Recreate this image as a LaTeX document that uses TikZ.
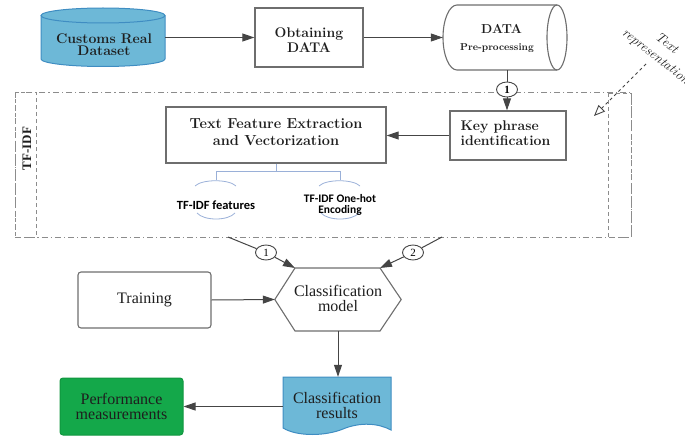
\documentclass[tikz,border=0pt]{standalone}
\usepackage{fontspec}
\newfontfamily\carlito{Carlito}
\newfontfamily\tnr{Liberation Serif}
\usetikzlibrary{arrows.meta,shapes.geometric,calc}
\definecolor{cylblue}{HTML}{6DB8D7}
\definecolor{cylborder}{HTML}{3F8DC2}
\definecolor{perfgreen}{HTML}{14A84A}
\definecolor{perfborder}{HTML}{10963F}
\definecolor{boxgray}{HTML}{6E6E6E}
\definecolor{arrowgray}{HTML}{454545}
\definecolor{treeblue}{HTML}{9AB0D8}
\definecolor{framegray}{HTML}{8C8C8C}
\definecolor{inkdark}{HTML}{1E1E1E}
\tikzset{
 boxnode/.style={draw=boxgray, line width=1.3pt, fill=white, inner sep=0pt},
 bx/.style={font=\fontsize{14}{15}\selectfont\bfseries, text=inkdark, align=center},
 rg/.style={font=\tnr\fontsize{16}{15}\selectfont, text=inkdark, align=center},
 arr/.style={draw=arrowgray, line width=1pt, -{Triangle[length=12pt,width=8pt]}},
 plainline/.style={draw=arrowgray, line width=1pt},
 numnode/.style={ellipse, draw=arrowgray, line width=0.9pt, fill=white, minimum width=21pt, minimum height=15pt, inner sep=0pt, font=\tnr\fontsize{11}{11}\selectfont},
 frameline/.style={draw=framegray, line width=1pt, dash pattern=on 6pt off 3pt on 1.2pt off 3pt},
 innerframe/.style={draw=framegray, line width=1pt, dash pattern=on 4pt off 3pt},
 tree/.style={draw=treeblue, line width=0.8pt},
 feat/.style={font=\carlito\fontsize{12.5}{11}\selectfont\bfseries, text=black, align=center},
}
\begin{document}
\begin{tikzpicture}[x=1pt,y=-1pt]
\useasboundingbox (0,0) rectangle (685,436);
% dash-dot frame
\draw[frameline] (15,92) rectangle (631,237);
\draw[innerframe] (15,92) rectangle (36,237);
\draw[innerframe] (608,93) rectangle (631,237);
\node[rotate=90, font=\tnr\fontsize{13}{13}\selectfont\bfseries, text=inkdark] (tfidf) at (27,148.5) {TF-IDF};
% Customs cylinder
\fill[cylblue] (41,15.5) -- (41,59) .. controls (41,63.1) and (68.8,66.5) .. (103,66.5) .. controls (137.2,66.5) and (165,63.1) .. (165,59) -- (165,15.5) -- cycle;
\draw[cylborder, line width=1pt] (41,15.5) -- (41,59) .. controls (41,63.1) and (68.8,66.5) .. (103,66.5) .. controls (137.2,66.5) and (165,63.1) .. (165,59) -- (165,15.5);
\draw[cylborder, line width=1pt, fill=cylblue] (103,15.5) ellipse [x radius=62, y radius=7.5];
\node[inner sep=0, minimum width=124pt, minimum height=58pt] (crd) at (103,37.5) {};
\node[bx, font=\fontsize{14}{12}\selectfont\bfseries] (crdtxt) at (104,45) {Customs Real\\Dataset};
% Obtaining
\node[boxnode, minimum width=108pt, minimum height=59pt] (obt) at (309,37.5) {};
\node[bx] (obttxt) at (309,40) {Obtaining\\DATA};
% Pre-processing cylinder
\draw[boxgray, line width=1.1pt, fill=white] (457,5) -- (557,5) .. controls (562.5,5) and (567,19.55) .. (567,37.5) .. controls (567,55.45) and (562.5,70) .. (557,70) -- (457,70) .. controls (449.3,70) and (443,55.45) .. (443,37.5) .. controls (443,19.55) and (449.3,5) .. (457,5) -- cycle;
\draw[boxgray, line width=1.1pt] (557,5) .. controls (551.5,5) and (547,19.55) .. (547,37.5) .. controls (547,55.45) and (551.5,70) .. (557,70);
\node[inner sep=0, minimum width=124pt, minimum height=65pt] (pre) at (505,37.5) {};
\node[bx, font=\fontsize{13}{13}\selectfont\bfseries] (pretxt1) at (501.5,29) {DATA};
\node[bx, font=\fontsize{10}{10}\selectfont\bfseries] (pretxt2) at (497,48) {Pre-processing};
\draw[arr] (crd.east) -- (obt.west);
\draw[arr] (obt.east) -- (pre.west);
% Key phrase
\node[boxnode, minimum width=116pt, minimum height=49pt] (key) at (508,135.5) {};
\node[bx, align=left] (keytxt) at (505.5,133) {Key phrase\\identification};
\node[numnode, font=\tnr\fontsize{11}{11}\selectfont\bfseries] (n1) at (507,89.5) {1};
\draw[plainline] (n1 |- pre.south) -- (n1.north);
\draw[arr] (n1.south) -- (n1 |- key.north);
% Text feature extraction
\node[boxnode, minimum width=220pt, minimum height=56pt] (tfe) at (276,135) {};
\node[bx, font=\fontsize{14.5}{17}\selectfont\bfseries] (tfetxt) at (276,132) {Text Feature Extraction\\and Vectorization};
\draw[arr] (key.west) -- (key.west -| tfe.east);
% tree
\coordinate (f1top) at (216,180);
\coordinate (f2top) at (340,180);
\draw[tree] (tfe.south) -- ++(0,8) coordinate (tj);
\draw[tree] (f1top) |- (tj) -| (f2top);
\foreach \cx in {216,340} {
 \draw[tree] (\cx-21,186) .. controls (\cx-14,179) and (\cx+13,179) .. (\cx+20,186);
 \draw[tree] (\cx-19,213) .. controls (\cx-12,221) and (\cx+12,221) .. (\cx+19,213);
}
\node[feat] (f1) at (216,205) {TF-IDF features};
\node[feat, font=\carlito\fontsize{11.5}{11}\selectfont\bfseries] (f2) at (340,205) {TF-IDF One-hot\\Encoding};
% Text representation
\node[rotate=-38, font=\fontsize{13.5}{17}\selectfont\itshape, text=inkdark, align=center] (trep) at (661,50.5) {Text\\representation};
\coordinate (trs) at (646,64);
\coordinate (tre) at (594,116);
\draw[draw=arrowgray, line width=0.9pt, dashed, -{Triangle[open, length=11pt, width=9pt]}] (trs) -- (tre);
% numbered connectors
\node[numnode] (n2) at (266,252.5) {1};
\node[numnode] (n3) at (413,252.5) {2};
% hexagon
\node[inner sep=0, minimum width=126pt, minimum height=63pt] (cm) at (338,299.5) {};
\coordinate (hTL) at (295,268);
\coordinate (hTR) at (380,268);
\coordinate (hBR) at (380,331);
\coordinate (hBL) at (295,331);
\draw[boxgray, line width=1.1pt, fill=white] (cm.west) -- (hTL) -- (hTR) -- (cm.east) -- (hBR) -- (hBL) -- cycle;
\node[rg] (cmtxt) at (338,298) {Classification\\model};
\coordinate (e1) at (228,237);
\coordinate (e2) at (442,237);
\draw[plainline] (e1) -- (n2);
\draw[arr] (n2) -- (hTL);
\draw[plainline] (e2) -- (n3);
\draw[arr] (n3) -- (hTR);
% Training
\node[boxnode, line width=1.1pt, rounded corners=3pt, minimum width=133pt, minimum height=56pt, rg] (train) at (144.5,300) {Training};
\draw[arr] (train.east) -- (cm.west);
% results
\node[inner sep=0, minimum width=108pt, minimum height=59pt] (res) at (337,406.5) {};
\draw[cylborder, line width=1pt, fill=cylblue] (283,377) -- (391,377) -- (391,430) .. controls (378,423) and (360,422) .. (343,429) .. controls (326,436) and (298,437) .. (283,428) -- cycle;
\node[rg] (restxt) at (337,405) {Classification\\results};
\draw[arr] (cm.south) -- (cm.south |- res.north);
% Performance
\node[draw=perfborder, fill=perfgreen, line width=1pt, rounded corners=3pt, minimum width=123pt, minimum height=57pt, rg, inner sep=0] (perf) at (121.5,406.5) {Performance\\measurements};
\draw[arr] (res.west) -- (perf.east);
\end{tikzpicture}
\end{document}
